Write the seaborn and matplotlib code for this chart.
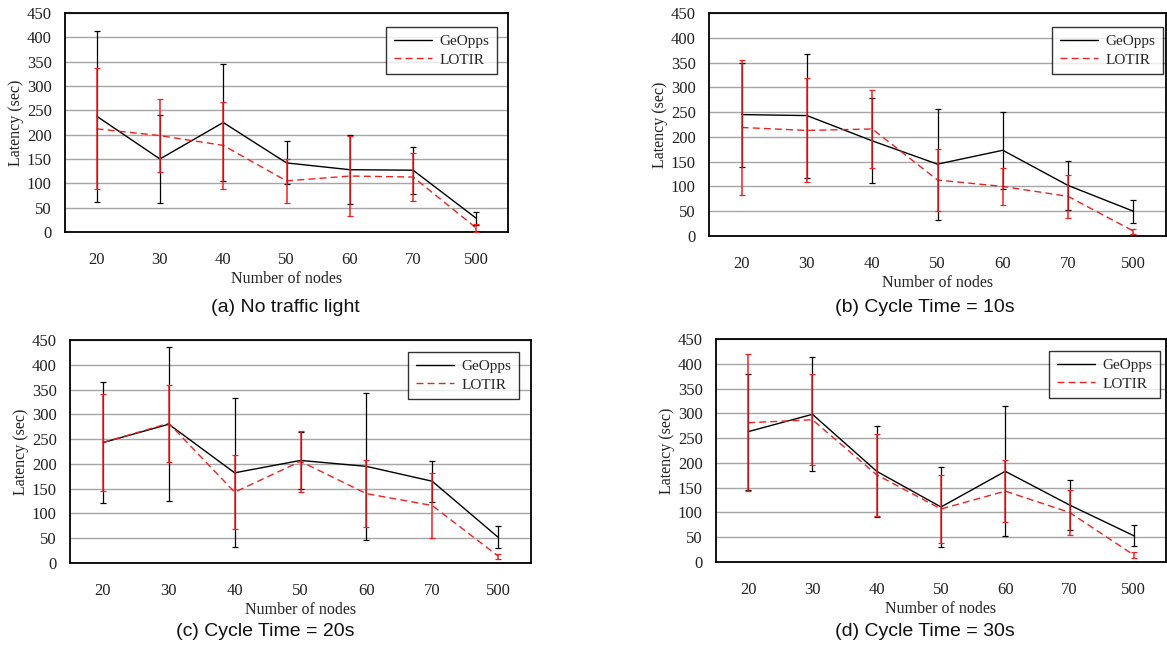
import matplotlib
matplotlib.use("Agg")
import matplotlib.pyplot as plt
import seaborn as sns
import numpy as np
import pandas as pd

NODES = ["20", "30", "40", "50", "60", "70", "500"]

# (a) No traffic light
GEO_A = [238, 150, 225, 142, 128, 127, 28]
GEO_A_ERR = [176, 91, 120, 44, 71, 48, 14]
LOT_A = [212, 198, 178, 105, 115, 113, 8]
LOT_A_ERR = [124, 75, 90, 45, 83, 50, 8]

# (b) Cycle Time = 10s
GEO_B = [245, 243, 192, 145, 173, 102, 50]
GEO_B_ERR = [105, 125, 86, 112, 78, 50, 23]
LOT_B = [219, 213, 216, 113, 100, 80, 10]
LOT_B_ERR = [137, 105, 78, 62, 38, 44, 5]

# (c) Cycle Time = 20s
GEO_C = [243, 280, 182, 207, 195, 165, 52]
GEO_C_ERR = [122, 155, 150, 57, 148, 41, 22]
LOT_C = [243, 282, 143, 205, 140, 116, 14]
LOT_C_ERR = [98, 78, 74, 62, 68, 65, 5]

# (d) Cycle Time = 30s
GEO_D = [263, 298, 183, 111, 183, 115, 53]
GEO_D_ERR = [117, 115, 92, 80, 131, 50, 21]
LOT_D = [281, 287, 176, 107, 143, 100, 14]
LOT_D_ERR = [138, 92, 83, 68, 62, 45, 6]

CAPTIONS = ["(a) No traffic light", "(b) Cycle Time = 10s",
            "(c) Cycle Time = 20s", "(d) Cycle Time = 30s"]

PANELS = [
    (GEO_A, GEO_A_ERR, LOT_A, LOT_A_ERR),
    (GEO_B, GEO_B_ERR, LOT_B, LOT_B_ERR),
    (GEO_C, GEO_C_ERR, LOT_C, LOT_C_ERR),
    (GEO_D, GEO_D_ERR, LOT_D, LOT_D_ERR),
]

# axes boxes in pixels: left, top, right, bottom
BOXES = [(65, 13, 508, 232), (709, 13, 1166, 236),
         (70, 340, 531, 563), (716, 339, 1166, 562)]
# legend offsets from the top-right corner (px)
LEG_OFF = [(11, 14), (3, 14), (12, 12), (6, 12)]
CAP_POS = [(285, 307), (925, 307), (265, 632), (925, 632)]

W, H = 1167, 652

sns.set_theme(style="white")
plt.rcParams['font.family'] = ['Liberation Serif', 'DejaVu Serif']
sans = ['Liberation Sans Narrow', 'Liberation Sans', 'DejaVu Sans']

fig = plt.figure(figsize=(W / 100, H / 100), dpi=100)

for i, (geo, geo_err, lot, lot_err) in enumerate(PANELS):
    l, t, r, b = BOXES[i]
    ax = fig.add_axes([l / W, 1 - b / H, (r - l) / W, (b - t) / H])
    x = np.arange(len(NODES))
    df = pd.DataFrame({
        "x": np.concatenate([x, x]),
        "lat": geo + lot,
        "algo": ["GeOpps"] * len(x) + ["LOTIR"] * len(x),
    })
    sns.lineplot(data=df, x="x", y="lat", hue="algo", style="algo",
                 palette={"GeOpps": "black", "LOTIR": "#ee2222"},
                 dashes={"GeOpps": "", "LOTIR": (5, 3)},
                 ax=ax, linewidth=1.0, zorder=3)
    ax.errorbar(x, geo, yerr=geo_err, fmt="none", ecolor="black",
                elinewidth=0.9, capsize=2.5, capthick=0.9, zorder=4)
    ax.errorbar(x, lot, yerr=lot_err, fmt="none", ecolor="#ee2222",
                elinewidth=1.1, capsize=2, capthick=0.9, zorder=5)

    ax.set_xlim(-0.5, len(NODES) - 0.5)
    ax.set_ylim(0, 450)
    ax.set_yticks(range(0, 451, 50))
    ax.set_xticks(x)
    ax.set_xticklabels(NODES)
    ax.yaxis.grid(True, color="#a6a6a6", linewidth=1.0)
    ax.set_axisbelow(True)
    for s in ax.spines.values():
        s.set_color("black")
        s.set_linewidth(1.3)
    ax.tick_params(axis="both", length=0, labelsize=12, colors="#222222")
    ax.tick_params(axis="x", pad=14.5)
    ax.tick_params(axis="y", pad=9.5)
    ax.set_xlabel("Number of nodes", fontsize=11.5, labelpad=2, color="#222222")
    ax.set_ylabel("Latency (sec)", fontsize=11.5, labelpad=2, color="#222222")

    pw, ph = r - l, b - t
    ox, oy = LEG_OFF[i]
    leg = ax.legend(loc="upper right",
                    bbox_to_anchor=(1 - ox / pw, 1 - oy / ph),
                    borderaxespad=0, frameon=True, fancybox=False,
                    fontsize=11, handlelength=2.5, handletextpad=0.5,
                    borderpad=0.5, labelspacing=0.3)
    leg.get_frame().set_edgecolor("black")
    leg.get_frame().set_linewidth(1.0)

    fig.text(CAP_POS[i][0] / W, 1 - CAP_POS[i][1] / H, CAPTIONS[i],
             ha="center", va="center", fontsize=14, family=sans, color="#111111")

fig.savefig("out.png", dpi=100)
